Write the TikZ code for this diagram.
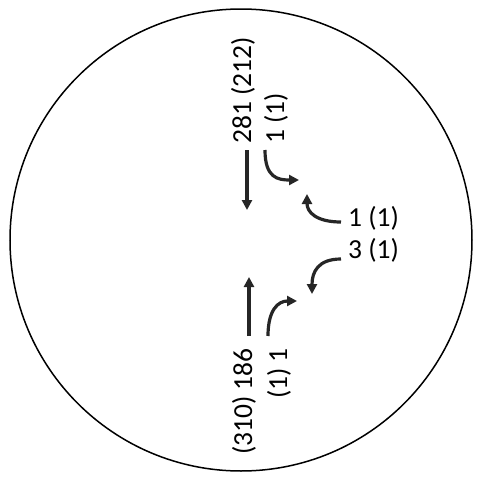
\documentclass[tikz,border=0pt]{standalone}
\usepackage{fontspec}
\setmainfont{Carlito}
\usetikzlibrary{arrows.meta}
\tikzset{
  lbl/.style={inner sep=0pt, font=\fontsize{27.5}{27.5}\selectfont},
  vlbl/.style={lbl, rotate=90},
  arr/.style={-{Triangle[length=10pt,width=10pt]}, line width=3.2pt, color=black!85},
  ring/.style={draw, line width=1.5pt}
}
\begin{document}
\begin{tikzpicture}[x=1pt,y=-1pt]
\useasboundingbox (0,0) rectangle (483,477);
\draw[ring] (241,240) circle (231);

% labels
\node[vlbl, anchor=west] (nThru) at (243,144) {281 (212)};
\node[vlbl, anchor=west] (nLeft) at (276,144) {1 (1)};
\node[lbl, anchor=west] (eRight) at (348,218) {1 (1)};
\node[lbl, anchor=west] (eLeft) at (348,250) {3 (1)};
\node[vlbl, anchor=east] (sThru) at (244,348) {(310) 186};
\node[vlbl, anchor=east] (sRight) at (279,348) {(1) 1};

% arrow ends
\coordinate (a1) at (247,150); \coordinate (b1) at (247,210);
\coordinate (a2) at (265,150); \coordinate (b2) at (299,180);
\coordinate (a3) at (341,222); \coordinate (b3) at (307,194);
\coordinate (a4) at (341,259); \coordinate (b4) at (312,294);
\coordinate (a5) at (249,336); \coordinate (b5) at (249,277);
\coordinate (a6) at (268,336); \coordinate (b6) at (297,301);

\draw[arr] (a1) -- (b1);
\draw[arr] (a2) .. controls (265,178) and (278,180) .. (b2);
\draw[arr] (a3) .. controls (316,222) and (307,212) .. (b3);
\draw[arr] (a4) .. controls (318,259) and (312,272) .. (b4);
\draw[arr] (a5) -- (b5);
\draw[arr] (a6) .. controls (268,310) and (278,301) .. (b6);
\end{tikzpicture}
\end{document}
